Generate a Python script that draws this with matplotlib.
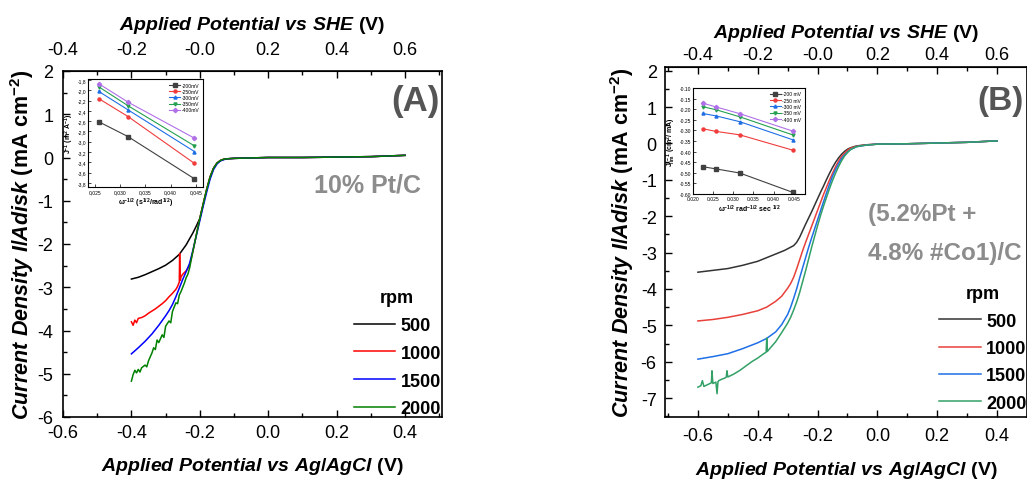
import matplotlib
matplotlib.use("Agg")
import matplotlib.pyplot as plt
from matplotlib.ticker import MultipleLocator, FixedLocator, FixedFormatter, FormatStrFormatter

plt.rcParams["font.family"] = ["Liberation Sans", "DejaVu Sans"]
plt.rcParams["mathtext.fontset"] = "custom"
plt.rcParams["mathtext.rm"] = "Liberation Sans:bold"
plt.rcParams["mathtext.it"] = "Liberation Sans:bold:italic"
plt.rcParams["mathtext.bf"] = "Liberation Sans:bold"
plt.rcParams["axes.unicode_minus"] = False

# ---------------- Panel A: 10% Pt/C polarisation curves ----------------
rpm_labels = ["500", "1000", "1500", "2000"]

a_x_500 = [-0.40, -0.38, -0.36, -0.34, -0.32, -0.30, -0.28, -0.26, -0.24, -0.22, -0.21, -0.20,
           -0.19, -0.18, -0.17, -0.16, -0.15, -0.14, -0.13, -0.12, -0.10, -0.05, 0.00, 0.10,
           0.20, 0.30, 0.40]
a_y_500 = [-2.81, -2.77, -2.71, -2.64, -2.57, -2.49, -2.38, -2.24, -2.02, -1.74, -1.58, -1.41,
           -1.07, -0.74, -0.45, -0.25, -0.13, -0.07, -0.04, -0.03, -0.02, -0.01, 0.00, 0.00,
           0.01, 0.02, 0.05]

a_x_1000 = [-0.40, -0.395, -0.39, -0.385, -0.38, -0.37, -0.36, -0.35, -0.34, -0.33, -0.32, -0.31,
            -0.30, -0.29, -0.28, -0.27, -0.265, -0.26, -0.259, -0.258, -0.257, -0.255, -0.25,
            -0.24, -0.23, -0.22, -0.21, -0.20, -0.19, -0.18, -0.17, -0.16, -0.15, -0.14, -0.13,
            -0.12, -0.10, 0.00, 0.10, 0.20, 0.30, 0.40]
a_y_1000 = [-3.80, -3.88, -3.76, -3.82, -3.72, -3.70, -3.66, -3.60, -3.55, -3.50, -3.44, -3.38,
            -3.31, -3.22, -3.14, -3.05, -2.98, -2.88, -2.22, -2.62, -2.84, -2.76, -2.70,
            -2.62, -2.50, -2.16, -1.78, -1.41, -1.07, -0.74, -0.45, -0.25, -0.13, -0.07, -0.04,
            -0.03, -0.02, 0.00, 0.00, 0.01, 0.02, 0.05]

a_x_1500 = [-0.40, -0.38, -0.36, -0.34, -0.32, -0.30, -0.29, -0.28, -0.27, -0.26, -0.25, -0.24,
            -0.23, -0.22, -0.21, -0.20, -0.19, -0.18, -0.17, -0.16, -0.15, -0.14, -0.13, -0.12,
            -0.10, 0.00, 0.10, 0.20, 0.30, 0.40]
a_y_1500 = [-4.54, -4.40, -4.25, -4.08, -3.88, -3.66, -3.54, -3.40, -3.22, -3.02, -2.82, -2.64,
            -2.45, -2.14, -1.80, -1.46, -1.12, -0.80, -0.50, -0.28, -0.15, -0.08, -0.05, -0.03,
            -0.02, 0.00, 0.00, 0.01, 0.02, 0.05]

a_x_2000 = [-0.40, -0.395, -0.39, -0.385, -0.38, -0.375, -0.37, -0.36, -0.355, -0.35, -0.34,
            -0.335, -0.33, -0.325, -0.32, -0.31, -0.305, -0.30, -0.29, -0.285, -0.28, -0.275,
            -0.27, -0.265, -0.26, -0.255, -0.25, -0.245, -0.24, -0.235, -0.23, -0.22, -0.21,
            -0.20, -0.19, -0.18, -0.17, -0.16, -0.15, -0.14, -0.13, -0.12, -0.10, 0.00, 0.10,
            0.20, 0.30, 0.40]
a_y_2000 = [-5.17, -5.02, -4.92, -4.98, -4.90, -4.96, -4.86, -4.80, -4.84, -4.70, -4.52,
            -4.40, -4.44, -4.22, -4.28, -4.10, -4.16, -3.90, -3.78, -3.82, -3.56, -3.46,
            -3.36, -3.38, -3.18, -3.10, -3.00, -2.90, -2.78, -2.70, -2.56, -2.16, -1.78,
            -1.41, -1.07, -0.74, -0.45, -0.25, -0.13, -0.07, -0.04, -0.03, -0.02, 0.00, 0.00,
            0.01, 0.02, 0.05]

# Koutecky-Levich data for panel A (x = rpm^-1/2)
ka_x = [0.0258, 0.0316, 0.0447]
ka_labels = ["-200mV", "-250mV", "-300mV", "-350mV", "-400mV"]
ka_y = [
    [-2.61, -2.90, -3.72],
    [-2.16, -2.51, -3.42],
    [-2.02, -2.38, -3.19],
    [-1.93, -2.30, -3.08],
    [-1.87, -2.23, -2.93],
]

# ---------------- Panel B: (5.2%Pt + 4.8% #Co1)/C ----------------
b_x_500 = [-0.60, -0.55, -0.50, -0.45, -0.40, -0.37, -0.34, -0.31, -0.28, -0.27, -0.26, -0.25,
           -0.24, -0.23, -0.22, -0.21, -0.20, -0.19, -0.18, -0.17, -0.16, -0.15, -0.14, -0.13,
           -0.12, -0.11, -0.10, -0.09, -0.07, -0.04, 0.00, 0.10, 0.20, 0.30, 0.40]
b_y_500 = [-3.54, -3.49, -3.44, -3.35, -3.24, -3.14, -3.04, -2.94, -2.81, -2.72, -2.58, -2.40,
           -2.22, -2.05, -1.88, -1.70, -1.52, -1.34, -1.17, -0.99, -0.82, -0.66, -0.52, -0.40,
           -0.30, -0.22, -0.16, -0.12, -0.07, -0.04, -0.02, -0.01, 0.01, 0.03, 0.07]

b_x_1000 = [-0.60, -0.55, -0.50, -0.45, -0.40, -0.37, -0.34, -0.32, -0.30, -0.29, -0.28, -0.27,
            -0.26, -0.25, -0.24, -0.23, -0.22, -0.21, -0.20, -0.19, -0.18, -0.17, -0.16, -0.15,
            -0.14, -0.13, -0.12, -0.11, -0.10, -0.09, -0.07, -0.04, 0.00, 0.10, 0.20, 0.30, 0.40]
b_y_1000 = [-4.88, -4.84, -4.78, -4.70, -4.60, -4.50, -4.34, -4.20, -3.98, -3.85, -3.68, -3.45,
            -3.20, -2.95, -2.72, -2.50, -2.28, -2.06, -1.84, -1.62, -1.40, -1.20, -1.00, -0.82,
            -0.64, -0.49, -0.36, -0.27, -0.19, -0.13, -0.08, -0.04, -0.02, -0.01, 0.01, 0.03, 0.07]

b_x_1500 = [-0.60, -0.55, -0.50, -0.45, -0.40, -0.37, -0.34, -0.32, -0.30, -0.29, -0.28, -0.27,
            -0.26, -0.25, -0.24, -0.23, -0.22, -0.21, -0.20, -0.19, -0.18, -0.17, -0.16, -0.15,
            -0.14, -0.13, -0.12, -0.11, -0.10, -0.09, -0.07, -0.04, 0.00, 0.10, 0.20, 0.30, 0.40]
b_y_1500 = [-5.93, -5.86, -5.78, -5.64, -5.48, -5.36, -5.18, -4.98, -4.70, -4.50, -4.26, -4.00,
            -3.70, -3.42, -3.14, -2.86, -2.60, -2.35, -2.10, -1.85, -1.60, -1.36, -1.12, -0.90,
            -0.72, -0.56, -0.42, -0.32, -0.24, -0.17, -0.09, -0.05, -0.02, -0.01, 0.01, 0.03, 0.07]

b_x_2000 = [-0.60, -0.59, -0.585, -0.58, -0.57, -0.56, -0.555, -0.553, -0.55, -0.54, -0.536,
            -0.533, -0.53, -0.52, -0.51, -0.505, -0.503, -0.50, -0.49, -0.48, -0.46, -0.44,
            -0.42, -0.40, -0.38, -0.372, -0.370, -0.368, -0.36, -0.34, -0.32, -0.30, -0.29,
            -0.28, -0.27, -0.26, -0.25, -0.24, -0.23, -0.22, -0.21, -0.20, -0.19, -0.18, -0.17,
            -0.16, -0.15, -0.14, -0.13, -0.12, -0.11, -0.10, -0.09, -0.07, -0.04, 0.00, 0.10,
            0.20, 0.30, 0.40]
b_y_2000 = [-6.70, -6.66, -6.52, -6.68, -6.64, -6.60, -6.58, -6.25, -6.60, -6.56, -6.88,
            -6.55, -6.52, -6.48, -6.45, -6.42, -6.25, -6.42, -6.38, -6.34, -6.24, -6.12,
            -6.00, -5.90, -5.78, -5.74, -5.35, -5.72, -5.64, -5.45, -5.20, -4.94, -4.78,
            -4.58, -4.36, -4.10, -3.80, -3.50, -3.18, -2.86, -2.56, -2.26, -1.98, -1.72, -1.48,
            -1.24, -1.02, -0.82, -0.64, -0.48, -0.35, -0.25, -0.17, -0.09, -0.05, -0.02, -0.01,
            0.01, 0.03, 0.07]

# Koutecky-Levich data for panel B (x = rpm^-1/2)
kb_x = [0.02236, 0.02582, 0.03162, 0.04472]
kb_labels = ["-200 mV", "-250 mV", "-300 mV", "-350 mV", "-400 mV"]
kb_y = [
    [-0.471, -0.482, -0.501, -0.592],
    [-0.292, -0.305, -0.321, -0.393],
    [-0.220, -0.232, -0.259, -0.344],
    [-0.188, -0.203, -0.236, -0.321],
    [-0.171, -0.190, -0.221, -0.303],
]

SHE_OFFSET = 0.2
top_ticks = [-0.4, -0.2, 0.0, 0.2, 0.4, 0.6]
top_tick_labels = ["-0.4", "-0.2", "-0.0", "0.2", "0.4", "0.6"]

colors_a = ["#000000", "#ff0000", "#0000ff", "#008000"]
colors_b = ["#333333", "#e8403a", "#1f6fe6", "#33a067"]
kl_colors = ["#404040", "#f03c3c", "#1f6fe6", "#25a050", "#b070e8"]
kl_markers = ["s", "o", "^", "v", "D"]

XLABEL = r"$\mathit{Applied\ Potential\ vs\ Ag/AgCl}\ \mathrm{(V)}$"
TOPLABEL = r"$\mathit{Applied\ Potential\ vs\ SHE}\ \mathrm{(V)}$"
YLABEL = r"$\mathit{Current\ Density\ I/Adisk}\ \mathrm{(mA\ cm^{-2})}$"

fig = plt.figure(figsize=(10.27, 4.81), dpi=100)


def style_main(ax, xlim, ylim, xpad, xlabpad, ypad, ylabpad, toppad, toplabpad):
    ax.set_xlim(*xlim)
    ax.set_ylim(*ylim)
    ax.xaxis.set_major_locator(MultipleLocator(0.2))
    ax.xaxis.set_minor_locator(MultipleLocator(0.1))
    ax.yaxis.set_major_locator(MultipleLocator(1))
    ax.yaxis.set_minor_locator(MultipleLocator(0.5))
    ax.tick_params(which="both", direction="in", labelsize=13, width=1.0, top=False, right=False)
    ax.tick_params(which="major", length=5)
    ax.tick_params(which="minor", length=3)
    ax.tick_params(axis="x", which="major", pad=xpad)
    ax.tick_params(axis="y", which="major", pad=ypad)
    ax.xaxis.set_major_formatter(FormatStrFormatter("%.1f"))
    ax.yaxis.set_major_formatter(FormatStrFormatter("%d"))
    for s in ax.spines.values():
        s.set_linewidth(1.2)
    ax.set_xlabel(XLABEL, fontsize=14, labelpad=xlabpad)
    ax.set_ylabel(YLABEL, fontsize=15.5, labelpad=ylabpad)
    sec = ax.secondary_xaxis("top", functions=(lambda v: v + SHE_OFFSET, lambda v: v - SHE_OFFSET))
    sec.xaxis.set_major_locator(FixedLocator(top_ticks))
    sec.xaxis.set_major_formatter(FixedFormatter(top_tick_labels))
    sec.xaxis.set_minor_locator(MultipleLocator(0.1))
    sec.tick_params(which="both", direction="in", labelsize=13, width=1.0)
    sec.tick_params(which="major", length=5, pad=toppad)
    sec.tick_params(which="minor", length=3)
    sec.set_xlabel(TOPLABEL, fontsize=14, labelpad=toplabpad)
    return sec


def style_inset(ax, xlim, ylim, xticks, yticks, fmt_x, fmt_y, xlabel, ylabel):
    ax.set_xlim(*xlim)
    ax.set_ylim(*ylim)
    ax.set_xticks(xticks, [fmt_x(v) for v in xticks])
    ax.set_yticks(yticks, [fmt_y(v) for v in yticks])
    ax.tick_params(which="both", direction="in", labelsize=3.6, length=2, width=0.5, pad=1.5)
    for s in ax.spines.values():
        s.set_linewidth(0.8)
    ax.set_xlabel(xlabel, fontsize=5, labelpad=1.5)
    ax.set_ylabel(ylabel, fontsize=5, labelpad=1)


legend_kw = dict(frameon=False, prop={"weight": "bold", "size": 13},
                 title_fontproperties={"weight": "bold", "size": 13},
                 handlelength=2.3, handletextpad=0.3, borderaxespad=0.0)

# ---------------- Panel A ----------------
axA = fig.add_axes([63 / 1027, 1 - 418 / 481, (442 - 63) / 1027, (418 - 72) / 481])
for xs, ys, c, lab in zip([a_x_500, a_x_1000, a_x_1500, a_x_2000],
                          [a_y_500, a_y_1000, a_y_1500, a_y_2000], colors_a, rpm_labels):
    axA.plot(xs, ys, color=c, lw=1.1, label=lab)
style_main(axA, (-0.6, 0.508), (-6, 2), xpad=5, xlabpad=10, ypad=7, ylabpad=1,
           toppad=9, toplabpad=9)
axA.legend(title="rpm", loc="lower right", bbox_to_anchor=(1.016, -0.022), labelspacing=0.6,
           **legend_kw)
axA.text(0.995, 0.915, "(A)", transform=axA.transAxes, fontsize=25, fontweight="bold",
         color="#555555", ha="right", va="center")
axA.text(0.945, 0.673, "10% Pt/C", transform=axA.transAxes, fontsize=18, fontweight="bold",
         color="#8c8c8c", ha="right", va="center")

insA = fig.add_axes([88 / 1027, 1 - 188 / 481, 115 / 1027, 108 / 481])
for ys, c, m, lab in zip(ka_y, kl_colors, kl_markers, ka_labels):
    insA.plot(ka_x, ys, color=c, marker=m, ms=2.2, lw=0.8, label=lab)
style_inset(insA, (0.0237, 0.0464), (-3.88, -1.78),
            [0.025, 0.030, 0.035, 0.040, 0.045], [-1.8 - 0.2 * i for i in range(11)],
            lambda v: f"{v:.3f}".replace(".", ","), lambda v: f"{v:.1f}".replace(".", ","),
            r"$\mathrm{\omega^{-1/2}\ (s^{1/2}/rad^{1/2})}$", r"$\mathrm{J^{-1}\ (m^{2}\ A^{-1})}$")
insA.legend(loc="upper right", frameon=False, fontsize=3.6, handlelength=2.2, handletextpad=0.3,
            labelspacing=0.25, borderaxespad=0.3)

# ---------------- Panel B ----------------
axB = fig.add_axes([665 / 1027, 1 - 418 / 481, (1027 - 665) / 1027, (418 - 68) / 481])
for xs, ys, c, lab in zip([b_x_500, b_x_1000, b_x_1500, b_x_2000],
                          [b_y_500, b_y_1000, b_y_1500, b_y_2000], colors_b, rpm_labels):
    axB.plot(xs, ys, color=c, lw=1.1, label=lab)
style_main(axB, (-0.71, 0.50), (-7.52, 2.1), xpad=7, xlabpad=11, ypad=6, ylabpad=3,
           toppad=3, toplabpad=6)
axB.legend(title="rpm", loc="lower right", bbox_to_anchor=(1.019, -0.005), labelspacing=0.57,
           **legend_kw)
axB.text(0.99, 0.905, "(B)", transform=axB.transAxes, fontsize=24, fontweight="bold",
         color="#555555", ha="right", va="center")
axB.text(0.56, 0.526, "(5.2%Pt +\n4.8% #Co1)/C", transform=axB.transAxes, fontsize=17.5,
         fontweight="bold", color="#8c8c8c", ha="left", va="center", linespacing=1.85)

insB = fig.add_axes([693 / 1027, 1 - 195 / 481, 112 / 1027, 106 / 481])
for ys, c, m, lab in zip(kb_y, kl_colors, kl_markers, kb_labels):
    insB.plot(kb_x, ys, color=c, marker=m, ms=2.2, lw=0.8, label=lab)
style_inset(insB, (0.020, 0.0478), (-0.60, -0.10),
            [0.020, 0.025, 0.030, 0.035, 0.040, 0.045], [-0.10 - 0.05 * i for i in range(11)],
            lambda v: f"{v:.3f}", lambda v: f"{v:.2f}",
            r"$\mathrm{\omega^{-1/2}\ rad^{-1/2}\ sec^{\ 1/2}}$", r"$\mathrm{J_{lim}^{\ -1}\ (cm^{2}/\ mA)}$")
insB.legend(loc="upper right", frameon=False, fontsize=3.6, handlelength=2.2, handletextpad=0.3,
            labelspacing=0.25, borderaxespad=0.3)

fig.savefig("out.png", dpi=100)
